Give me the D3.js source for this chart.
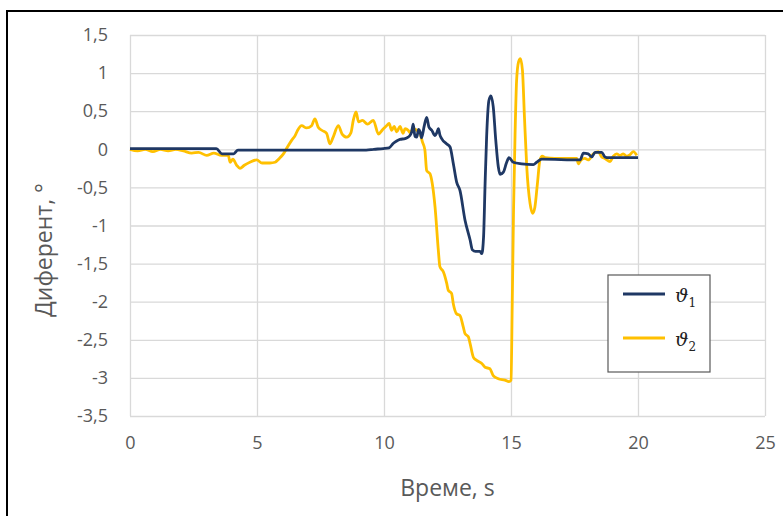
<!DOCTYPE html>
<html>
<head>
<meta charset="utf-8">
<script src="https://cdn.jsdelivr.net/npm/d3@7"></script>
<style>
  body { margin: 0; background: #fff; }
  text { font-family: "Open Sans", sans-serif; fill: #595959; }
</style>
</head>
<body>
<div id="chart"></div>
<script>
// time (s) and trim angle (deg)
let t1 = [0, 1, 2, 3, 3.40, 3.62, 4.08, 4.25, 6, 8, 9.3, 9.6, 9.97, 10.2, 10.37, 10.5, 10.63, 10.83, 10.95, 11.02,
  11.09, 11.15, 11.22, 11.29, 11.36, 11.42, 11.48, 11.58, 11.68, 11.77, 11.88, 12.01, 12.08, 12.14, 12.2, 12.27,
  12.47, 12.60, 12.73, 12.86, 12.99, 13.19, 13.39, 13.48, 13.6, 13.78, 13.85, 13.92, 13.98, 14.04, 14.13, 14.21,
  14.30, 14.40, 14.50, 14.57, 14.70, 14.82, 14.92, 15.09, 15.42, 15.88, 16.01, 16.21, 17.72, 17.85, 18.04, 18.18,
  18.31, 18.57, 18.70, 18.83, 20.0]
let theta1 = [0.01, 0.01, 0.01, 0.01, 0.01, -0.06, -0.06, -0.01, -0.01, -0.01, -0.01, 0.0, 0.01, 0.02, 0.08, 0.11, 0.13, 0.14, 0.16, 0.18,
  0.23, 0.33, 0.17, 0.16, 0.26, 0.23, 0.15, 0.3, 0.42, 0.29, 0.25, 0.18, 0.22, 0.27, 0.19, 0.14,
  0.07, 0.03, -0.19, -0.43, -0.54, -0.93, -1.19, -1.32, -1.34, -1.34, -1.37, -1.15, -0.45, 0.16, 0.64, 0.70,
  0.56, 0.12, -0.23, -0.33, -0.30, -0.18, -0.11, -0.17, -0.19, -0.20, -0.17, -0.13, -0.14, -0.05, -0.06, -0.10,
  -0.04, -0.04, -0.10, -0.11, -0.11]

let t2 = [0, 0.3, 0.6, 0.9, 1.2, 1.5, 1.8, 2.1, 2.43, 2.7, 3.02, 3.3, 3.6, 3.87, 3.94, 4.05, 4.2, 4.33, 4.5, 4.72,
  4.99, 5.2, 5.51, 5.71, 5.88, 6.04, 6.2, 6.37, 6.5, 6.6, 6.76, 6.95, 7.15, 7.28, 7.41, 7.55, 7.74, 7.87, 8.0, 8.2,
  8.35, 8.53, 8.7, 8.79, 8.9, 9.0, 9.15, 9.35, 9.58, 9.78, 9.95, 10.1, 10.2, 10.3, 10.4, 10.5, 10.63, 10.75, 10.83,
  10.95, 11.02, 11.15, 11.29, 11.42, 11.51, 11.61, 11.68, 11.81, 11.90, 12.01, 12.14, 12.20, 12.34, 12.47, 12.53,
  12.66, 12.73, 12.86, 12.99, 13.12, 13.19, 13.32, 13.39, 13.52, 13.65, 13.85, 13.98, 14.17, 14.30, 14.50, 14.76,
  14.92, 15.00, 15.05, 15.10, 15.16, 15.22, 15.30, 15.37, 15.45, 15.53, 15.62, 15.75, 15.85, 15.94, 16.04, 16.14,
  16.23, 16.34, 16.73, 17.13, 17.59, 17.65, 17.76, 17.91, 18.04, 18.24, 18.44, 18.57, 18.70, 18.90, 19.03, 19.16,
  19.29, 19.42, 19.55, 19.69, 19.82, 19.95]
let theta2 = [0, -0.02, 0, -0.03, 0, -0.02, 0, -0.02, -0.05, -0.04, -0.08, -0.05, -0.08, -0.08, -0.17, -0.13, -0.21, -0.25, -0.21, -0.17,
  -0.14, -0.18, -0.18, -0.17, -0.12, -0.06, 0.03, 0.12, 0.18, 0.25, 0.31, 0.28, 0.31, 0.40, 0.29, 0.25, 0.21, 0.07, 0.16, 0.31,
  0.2, 0.16, 0.22, 0.38, 0.49, 0.36, 0.38, 0.33, 0.38, 0.20, 0.26, 0.31, 0.34, 0.25, 0.3, 0.23, 0.30, 0.21, 0.27,
  0.25, 0.22, 0.27, 0.25, 0.21, 0.10, -0.01, -0.28, -0.32, -0.45, -0.76, -1.33, -1.54, -1.61, -1.76, -1.85,
  -1.89, -2.03, -2.16, -2.18, -2.33, -2.42, -2.46, -2.55, -2.73, -2.77, -2.81, -2.86, -2.88, -2.97, -3.01, -3.03,
  -3.05, -3.03, -2.0, -0.8, 0.2, 0.9, 1.15, 1.19, 1.04, 0.42, -0.23, -0.71, -0.84, -0.76, -0.45, -0.14,
  -0.09, -0.11, -0.12, -0.12, -0.12, -0.19, -0.14, -0.12, -0.14, -0.06, -0.03, -0.10, -0.12, -0.16, -0.09, -0.06,
  -0.08, -0.06, -0.09, -0.07, -0.03, -0.08]

let xTicks = [0, 5, 10, 15, 20, 25]
let yTicks = [1.5, 1, 0.5, 0, -0.5, -1, -1.5, -2, -2.5, -3, -3.5]
let seriesNames = ["1", "2"]

let width = 783, height = 516
let plot = { left: 130, right: 765, top: 35, bottom: 416 }

let svg = d3.select("#chart").append("svg")
  .attr("width", width)
  .attr("height", height)

// outer chart frame (runs off the right/bottom edge)
svg.append("rect")
  .attr("x", 7).attr("y", 11)
  .attr("width", 800).attr("height", 520)
  .attr("fill", "none")
  .attr("stroke", "#000")
  .attr("stroke-width", 2)

let x = d3.scaleLinear().domain([0, 25]).range([plot.left, plot.right])
let y = d3.scaleLinear().domain([-3.5, 1.5]).range([plot.bottom, plot.top])

let fmt = d => String(d).replace(".", ",")

// grid
svg.append("g")
  .attr("transform", "translate(0," + plot.bottom + ")")
  .call(d3.axisBottom(x).tickValues(xTicks).tickSize(-(plot.bottom - plot.top)).tickFormat(fmt).tickPadding(20))
  .call(g => g.select(".domain").remove())
  .call(g => g.selectAll("line").attr("stroke", "#d9d9d9").attr("stroke-width", 1.3))
  .call(g => g.selectAll("text").attr("font-size", 18).attr("fill", "#595959").style("font-family", "Open Sans"))

svg.append("g")
  .attr("transform", "translate(" + plot.left + ",0)")
  .call(d3.axisLeft(y).tickValues(yTicks).tickSize(-(plot.right - plot.left)).tickFormat(fmt).tickPadding(22))
  .call(g => g.select(".domain").remove())
  .call(g => g.selectAll("line").attr("stroke", "#d9d9d9").attr("stroke-width", 1.3))
  .call(g => g.selectAll("text").attr("font-size", 18).attr("fill", "#595959").style("font-family", "Open Sans"))

// series
let line = d3.line()
  .x(d => x(d[0]))
  .y(d => y(d[1]))
  .curve(d3.curveMonotoneX)

svg.append("path")
  .datum(d3.zip(t2, theta2))
  .attr("fill", "none")
  .attr("stroke", "#ffc000")
  .attr("stroke-width", 2.8)
  .attr("stroke-linejoin", "round")
  .attr("d", line)

svg.append("path")
  .datum(d3.zip(t1, theta1))
  .attr("fill", "none")
  .attr("stroke", "#1f3864")
  .attr("stroke-width", 2.8)
  .attr("stroke-linejoin", "round")
  .attr("d", line)

// axis titles
svg.append("text")
  .attr("x", (plot.left + plot.right) / 2)
  .attr("y", 496)
  .attr("text-anchor", "middle")
  .attr("font-size", 23)
  .text("Време, s")

svg.append("text")
  .attr("transform", "translate(52,250) rotate(-90)")
  .attr("text-anchor", "middle")
  .attr("font-size", 23)
  .text("Диферент, °")

// legend
let legend = svg.append("g").attr("transform", "translate(608,275)")
legend.append("rect")
  .attr("width", 102).attr("height", 97)
  .attr("fill", "#fff")
  .attr("stroke", "#595959")
  .attr("stroke-width", 1.2)

let colors = ["#1f3864", "#ffc000"]
seriesNames.forEach(function(name, i) {
  let yy = 19 + i * 44
  legend.append("line")
    .attr("x1", 15).attr("x2", 57)
    .attr("y1", yy).attr("y2", yy)
    .attr("stroke", colors[i])
    .attr("stroke-width", 2.8)
  let lbl = legend.append("text")
    .attr("x", 67).attr("y", yy + 8)
    .style("font-family", "DejaVu Serif")
    .attr("fill", "#222")
  lbl.append("tspan").attr("font-style", "italic").attr("font-size", 19).attr("fill", "#222").text("ϑ")
  lbl.append("tspan").attr("font-size", 12).attr("dy", 5).attr("fill", "#222").text(name)
})
</script>
</body>
</html>
